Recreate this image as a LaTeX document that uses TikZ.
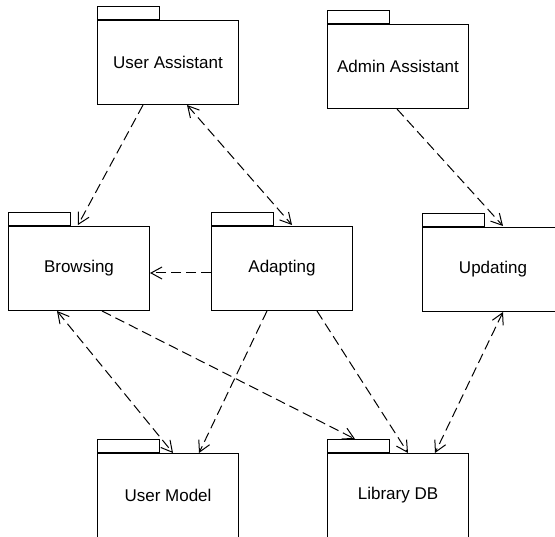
\documentclass[tikz,border=0pt]{standalone}
\usepackage{fontspec}
\setmainfont{Liberation Sans}
\usetikzlibrary{arrows.meta}
\tikzset{
  pkg/.style={draw, line width=1pt, minimum width=141pt, minimum height=84pt,
    anchor=north west, inner sep=0pt, font=\fontsize{17}{20}\selectfont},
  pkgtab/.style={draw, line width=1pt, minimum width=62pt, minimum height=13pt,
    anchor=south west, inner sep=0pt},
  barb/.tip={Straight Barb[length=11pt,width=12pt,line width=1pt]},
  dep/.style={line width=1pt, dash pattern=on 10pt off 5pt, -barb},
  bidep/.style={line width=1pt, dash pattern=on 10pt off 5pt, barb-barb},
}
\begin{document}
\begin{tikzpicture}[x=1pt,y=-1pt]
\useasboundingbox (0,0) rectangle (555,537);
\clip (0,0) rectangle (555,537);
% packages
\node[pkg] (ua) at (97,20) {User Assistant};
\node[pkgtab] (uat) at (ua.north west) {};
\node[pkg] (aa) at (327,24) {Admin Assistant};
\node[pkgtab] (aat) at (aa.north west) {};
\node[pkg] (br) at (8,226) {Browsing};
\node[pkgtab] (brt) at (br.north west) {};
\node[pkg] (ad) at (211,226) {Adapting};
\node[pkgtab] (adt) at (ad.north west) {};
\node[pkg] (up) at (422,227) {Updating};
\node[pkgtab] (upt) at (up.north west) {};
\node[pkg] (um) at (97,453) {User Model};
\node[pkgtab] (umt) at (um.north west) {};
\node[pkg] (ldb) at (327,453) {Library DB};
\node[pkgtab] (ldbt) at (ldb.north west) {};
% dependencies
\draw[dep] ([xshift=46pt]ua.south west) -- ([xshift=70pt,yshift=1pt]br.north west);
\draw[bidep] ([xshift=90pt]ua.south west) -- ([xshift=81pt,yshift=1pt]ad.north west);
\draw[dep] ([yshift=-47pt]ad.north west) -- ([yshift=-47pt]br.north east);
\draw[dep] ([xshift=70pt]aa.south west) -- ([xshift=81pt,yshift=1pt]up.north west);
\draw[bidep] ([xshift=49pt]br.south west) -- ([xshift=76pt]um.north west);
\draw[dep] ([xshift=94pt]br.south west) -- ([xshift=28pt]ldbt.north west);
\draw[dep] ([xshift=56pt]ad.south west) -- ([xshift=102pt]um.north west);
\draw[dep] ([xshift=106pt]ad.south west) -- ([xshift=81pt]ldb.north west);
\draw[bidep] ([xshift=81pt]up.south west) -- ([xshift=108pt]ldb.north west);
\end{tikzpicture}
\end{document}
